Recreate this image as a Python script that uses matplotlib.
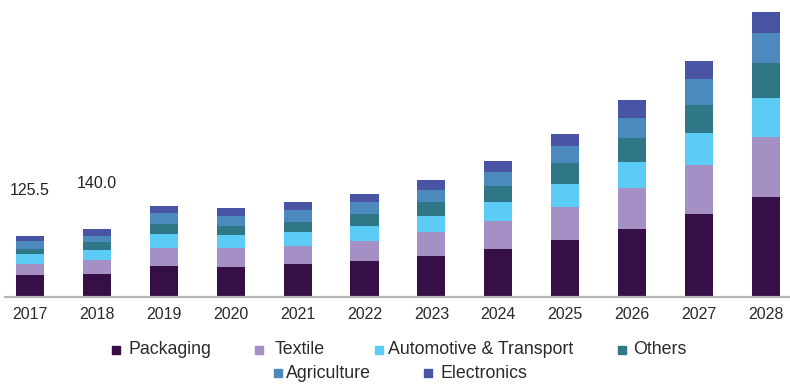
import numpy as np
import matplotlib
matplotlib.use("Agg")
import matplotlib.pyplot as plt
from matplotlib.patches import Rectangle

plt.rcParams['font.family'] = ['Liberation Sans', 'DejaVu Sans']

# Market size by application, 2017-2028
years = ['2017', '2018', '2019', '2020', '2021', '2022',
         '2023', '2024', '2025', '2026', '2027', '2028']
packaging = [45.5, 48.3, 63.9, 62.5, 68.0, 73.5, 83.8, 99.6, 117.5, 140.8, 170.4, 206.8]
textile = [22.3, 28.6, 36.4, 37.8, 37.1, 42.6, 49.5, 56.3, 68.7, 84.5, 101.7, 123.7]
automotive = [20.8, 20.4, 28.9, 26.8, 28.9, 29.5, 33.0, 39.8, 46.0, 53.6, 65.3, 79.0]
others = [11.2, 15.6, 20.6, 19.2, 20.6, 25.4, 28.9, 32.3, 43.3, 49.5, 57.7, 72.1]
agriculture = [16.0, 13.6, 24.0, 20.6, 24.0, 24.7, 26.1, 29.5, 35.7, 41.2, 53.6, 63.2]
electronics = [9.7, 13.5, 14.4, 15.8, 17.2, 17.2, 20.6, 23.4, 24.0, 35.7, 37.8, 43.3]

series = [
    ('Packaging', packaging, '#370f47'),
    ('Textile', textile, '#a490c5'),
    ('Automotive & Transport', automotive, '#5ccbf5'),
    ('Others', others, '#2f7686'),
    ('Agriculture', agriculture, '#4c89bd'),
    ('Electronics', electronics, '#4954a5'),
]

W, H = 790, 385
fig = plt.figure(figsize=(W / 100, H / 100), dpi=100)
ax = fig.add_axes([5 / W, (H - 297) / H, 785 / W, 297 / H])

x = np.arange(len(years))
bottom = np.zeros(len(years))
for name, vals, color in series:
    ax.bar(x, vals, width=0.42, bottom=bottom, color=color, label=name)
    bottom += np.array(vals)

# value labels on the first two years
for i in range(2):
    ax.annotate(f'{bottom[i]:.1f}', xy=(x[i], bottom[i]), xytext=(0, 33),
                textcoords='offset points', ha='center', va='center',
                fontsize=11.5, color='#222222')

ax.set_xlim(-0.374, 11.36)
ax.set_ylim(0, 612)
ax.set_xticks(x)
ax.set_xticklabels(years, fontsize=11.5, color='#2a2a2a')
ax.tick_params(axis='x', length=0, pad=7)
ax.set_yticks([])
for s in ['top', 'right', 'left']:
    ax.spines[s].set_visible(False)
ax.spines['bottom'].set_color('#b3b3b3')
ax.spines['bottom'].set_linewidth(1.6)

# legend laid out in two centred rows
legend_pos = [(112, 128, 350), (255, 275, 350), (375, 388, 350), (618, 633, 350),
              (274, 286, 373), (424, 440, 373)]
sq = 8
for (name, vals, color), (sx, tx, yc) in zip(series, legend_pos):
    fig.add_artist(Rectangle((sx / W, (H - yc - sq / 2) / H), sq / W, sq / H,
                             transform=fig.transFigure, color=color))
    fig.text(tx / W, (H - yc) / H, name, ha='left', va='center',
             fontsize=12.8, color='#2a2a2a')

fig.savefig('out.png', dpi=100)
